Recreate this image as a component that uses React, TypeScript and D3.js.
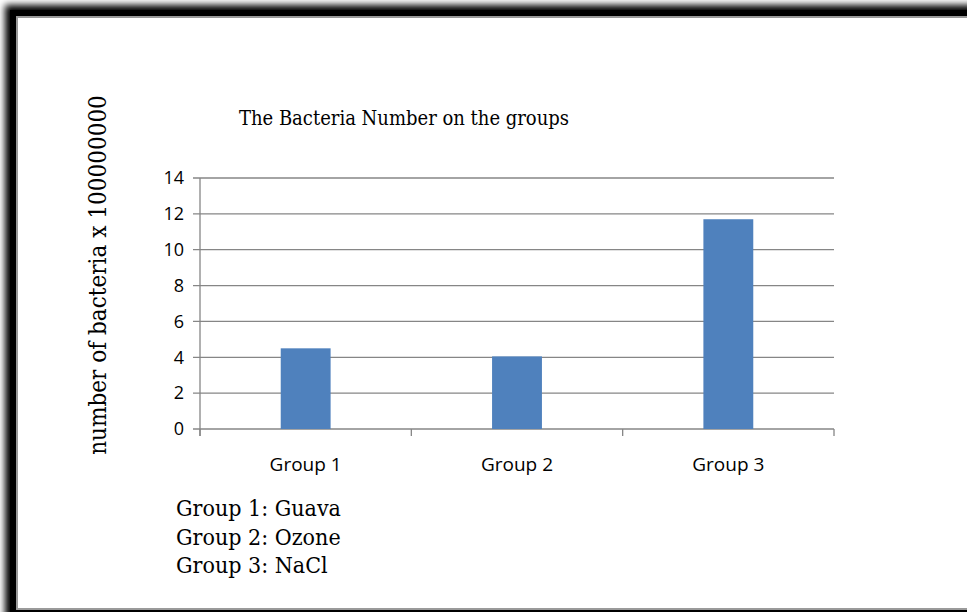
import React from 'react';
import * as d3 from 'd3';

const categories = ['Group 1', 'Group 2', 'Group 3'];
const bacteria = [4.5, 4.05, 11.7];
const yTicks = [0, 2, 4, 6, 8, 10, 12, 14];
const legendLines = ['Group 1: Guava', 'Group 2: Ozone', 'Group 3: NaCl'];

const W = 967;
const H = 612;
const plot = { left: 200, right: 834, top: 178, bottom: 429 };

const serif = "'DejaVu Serif Condensed', 'DejaVu Serif', serif";
const sans = "'Liberation Sans Narrow', 'Open Sans', sans-serif";

export default function App() {
  const x = d3.scaleBand<string>()
    .domain(categories)
    .range([plot.left, plot.right])
    .paddingInner(0.764)
    .paddingOuter(0.382);

  const y = d3.scaleLinear().domain([0, 14]).range([plot.bottom, plot.top]);

  // category boundaries for the x-axis tick marks
  const step = x.step();
  const boundaries = d3.range(categories.length + 1).map(i => plot.left + i * step);

  return (
    <div style={{ position: 'absolute', left: 0, top: 0 }}>
      <svg width={W} height={H} style={{ display: 'block' }}>
        <defs>
          <filter id="shadow" x="-5%" y="-5%" width="110%" height="110%">
            <feGaussianBlur stdDeviation="3.5" />
          </filter>
        </defs>

        {/* frame */}
        <rect x={0} y={0} width={W} height={H} fill="#fff" />
        <rect x={5} y={5} width={1100} height={640} fill="#000" filter="url(#shadow)" />
        <rect x={10} y={10} width={1100} height={640} fill="#000" />
        <rect x={17} y={17} width={1100} height={592} fill="#fff" stroke="#9a9a9a" strokeWidth={2} />

        {/* title */}
        <text x={404} y={125} textAnchor="middle" fontFamily={serif} fontStretch="condensed"
          fontSize={20} fill="#000">
          The Bacteria Number on the groups
        </text>

        {/* y axis title */}
        <text transform={`translate(106,275) rotate(-90)`} textAnchor="middle" fontFamily={serif}
          fontStretch="condensed" fontSize={24} fill="#000">
          number of bacteria x 100000000
        </text>

        {/* gridlines + y ticks */}
        {yTicks.map(t => (
          <g key={t}>
            <line x1={plot.left - 7} x2={plot.right} y1={y(t)} y2={y(t)} stroke="#868686" strokeWidth={1.3} />
            <text x={plot.left - 16} y={y(t)} dy="0.35em" textAnchor="end" fontFamily={sans}
              fontSize={18} fill="#000">
              {t}
            </text>
          </g>
        ))}

        {/* axis lines */}
        <line x1={plot.left} x2={plot.left} y1={plot.top} y2={plot.bottom + 7} stroke="#868686" strokeWidth={1.3} />
        {boundaries.map((b, i) => (
          <line key={i} x1={b} x2={b} y1={plot.bottom} y2={plot.bottom + 7} stroke="#868686" strokeWidth={1.3} />
        ))}

        {/* bars */}
        {categories.map((c, i) => (
          <rect key={c} x={x(c)} y={y(bacteria[i])} width={x.bandwidth()}
            height={plot.bottom - y(bacteria[i])} fill="#4F81BD" />
        ))}

        {/* x labels */}
        {categories.map(c => (
          <text key={c} x={(x(c) ?? 0) + x.bandwidth() / 2} y={471} textAnchor="middle"
            fontFamily={sans} fontSize={19} fill="#000">
            {c}
          </text>
        ))}

        {/* legend notes */}
        {legendLines.map((l, i) => (
          <text key={l} x={176} y={516 + i * 28.5} fontFamily={serif} fontStretch="condensed"
            fontSize={23} fill="#000">
            {l}
          </text>
        ))}
      </svg>
    </div>
  );
}
